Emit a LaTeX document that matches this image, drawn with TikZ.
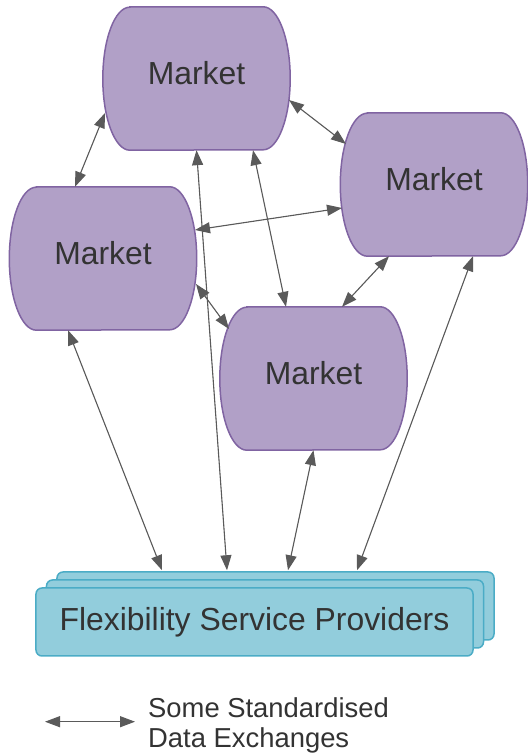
\documentclass[tikz,border=0pt]{standalone}
\usepackage{fontspec}
\setmainfont{Liberation Sans}
\usetikzlibrary{arrows.meta,backgrounds,shadows}
\definecolor{mktfill}{HTML}{B1A0C7}
\definecolor{mktedge}{HTML}{8064A2}
\definecolor{fspfill}{HTML}{92CDDC}
\definecolor{fspedge}{HTML}{4BACC6}
\definecolor{txtgrey}{HTML}{333333}
\definecolor{arrgrey}{HTML}{5A5A5A}
\tikzset{
  market/.style={minimum width=187bp, minimum height=143bp, inner sep=0pt, text depth=10.3bp,
    text=txtgrey, font=\fontsize{32}{38}\selectfont},
  mktline/.style={fill=mktfill, draw=mktedge, line width=1.5bp},
  fspbox/.style={minimum width=437bp, minimum height=68bp, inner sep=0pt, rounded corners=6bp,
    fill=fspfill, draw=fspedge, line width=1.5bp, text=txtgrey, font=\fontsize{32}{38}\selectfont,
    double copy shadow={shadow xshift=10.5bp, shadow yshift=8bp}},
  exch/.style={{Triangle[length=15bp,width=11bp]}-{Triangle[length=15bp,width=11bp]},
    draw=arrgrey, fill=arrgrey, line width=1.1bp},
  legendtext/.style={anchor=north west, align=left, inner sep=0pt, text=txtgrey,
    font=\fontsize{27.5}{31}\selectfont}
}
\newcommand{\mktshape}[1]{%
  \path[mktline] ([xshift=27bp]#1.north west) -- ([xshift=-27bp]#1.north east)
    arc[start angle=90, end angle=-90, x radius=27bp, y radius=71.5bp]
    -- ([xshift=27bp]#1.south west)
    arc[start angle=270, end angle=90, x radius=27bp, y radius=71.5bp] -- cycle;}
\begin{document}
\begin{tikzpicture}[x=1bp, y=1bp]
  \useasboundingbox (0,0) rectangle (528,753);
  \node [market] (mkttop) at (196.5,674.5) {Market};
  \node [market] (mktright) at (434,568.5) {Market};
  \node [market] (mktleft) at (103,494.5) {Market};
  \node [market] (mktmid) at (313.5,374.5) {Market};
  \begin{scope}[on background layer]
    \foreach \m in {mkttop,mktright,mktleft,mktmid} {\mktshape{\m}}
  \end{scope}
  \node [fspbox] (fsp) at (254.5,131) {Flexibility Service Providers};

  \draw [exch] ([shift={(-91.5,-34.5)}]mkttop.center) -- ([xshift=-28bp]mktleft.north);
  \draw [exch] ([shift={(92.5,-21.5)}]mkttop.center) -- ([shift={(-88,40.5)}]mktright.center);
  \draw [exch] ([shift={(92,28.5)}]mktleft.center) -- ([shift={(-92,-23.5)}]mktright.center);
  \draw [exch] ([xshift=56.5bp]mkttop.south) -- ([xshift=-27.5bp]mktmid.north);
  \draw [exch] (mkttop.south) -- ([shift={(-27.5,17)}]fsp.north);
  \draw [exch] ([shift={(93,-25.5)}]mktleft.center) -- ([shift={(-84.5,49.5)}]mktmid.center);
  \draw [exch] ([xshift=-45bp]mktright.south) -- ([xshift=28.5bp]mktmid.north);
  \draw [exch] ([xshift=-35bp]mktleft.south) -- ([shift={(-92.5,17)}]fsp.north);
  \draw [exch] (mktmid.south) -- ([shift={(33.5,17)}]fsp.north);
  \draw [exch] ([xshift=39bp]mktright.south) -- ([shift={(102.5,17)}]fsp.north);

  \coordinate (legl) at (45,31.3);
  \coordinate (legr) at (135,31.3);
  \draw [exch] (legl) -- (legr);
  \node [legendtext] (legtxt) at (148,56) {Some Standardised\\Data Exchanges};
\end{tikzpicture}
\end{document}
